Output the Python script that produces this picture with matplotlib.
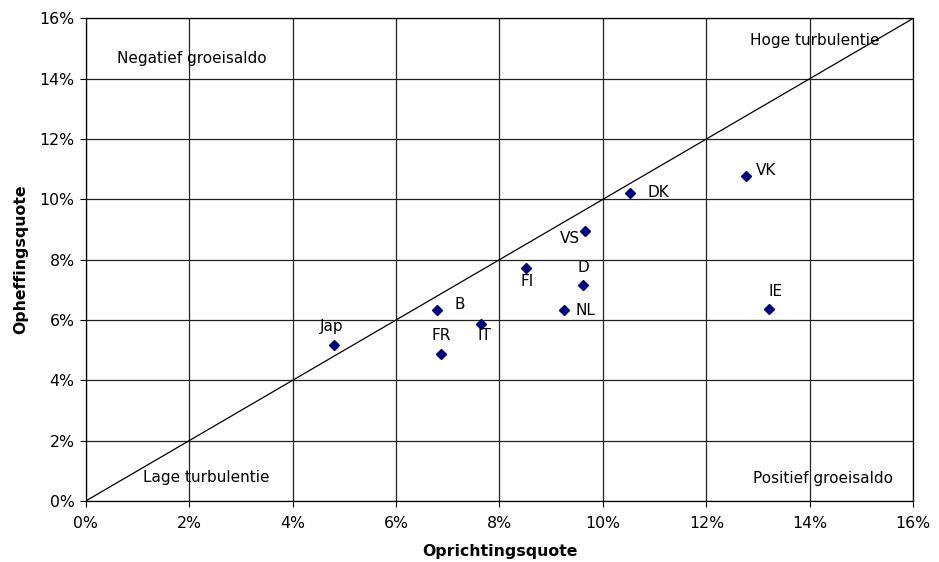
import matplotlib
matplotlib.use("Agg")
import matplotlib.pyplot as plt
from matplotlib.ticker import FuncFormatter, MultipleLocator

countries = ["Jap", "B", "FR", "IT", "FI", "D", "NL", "VS", "DK", "VK", "IE"]
oprichting = [4.81, 6.79, 6.87, 7.65, 8.51, 9.62, 9.25, 9.66, 10.52, 12.77, 13.21]
opheffing = [5.17, 6.33, 4.87, 5.87, 7.71, 7.17, 6.32, 8.94, 10.22, 10.76, 6.37]
# label offsets in points (dx, dy) and alignment
label_pos = {
    "Jap": (-2, 8, "center", "bottom"),
    "B": (13, 4, "left", "center"),
    "FR": (0, 8, "center", "bottom"),
    "IT": (2, -3, "center", "top"),
    "FI": (1, -4, "center", "top"),
    "D": (0, 7, "center", "bottom"),
    "NL": (8, 0, "left", "center"),
    "VS": (-4, -5, "right", "center"),
    "DK": (13, 0, "left", "center"),
    "VK": (7, 4, "left", "center"),
    "IE": (5, 7, "center", "bottom"),
}

W, H = 939, 562
L, R, T, B = 85.7, 913.3, 18.3, 501
fig = plt.figure(figsize=(W/100, H/100), dpi=100)
ax = fig.add_axes([L/W, 1-B/H, (R-L)/W, (B-T)/H])

ax.set_xlim(0, 16)
ax.set_ylim(0, 16)
ax.xaxis.set_major_locator(MultipleLocator(2))
ax.yaxis.set_major_locator(MultipleLocator(2))
fmt = FuncFormatter(lambda v, p: f"{int(round(v))}%")
ax.xaxis.set_major_formatter(fmt)
ax.yaxis.set_major_formatter(fmt)
ax.grid(True, color="#222222", linewidth=0.9)
ax.set_axisbelow(True)
for s in ax.spines.values():
    s.set_color("black")
    s.set_linewidth(0.9)
ax.tick_params(direction="out", length=4, labelsize=11.3, colors="black")
ax.tick_params(axis="x", pad=7)
ax.tick_params(axis="y", pad=4)

ax.plot([0, 16], [0, 16], color="black", linewidth=0.9, zorder=2)
ax.plot(oprichting, opheffing, linestyle="none", marker="D", markersize=5.5,
        color="#000080", zorder=3)

for c, x, y in zip(countries, oprichting, opheffing):
    dx, dy, ha, va = label_pos[c]
    ax.annotate(c, (x, y), xytext=(dx, dy), textcoords="offset points",
                ha=ha, va=va, fontsize=11)

ax.text(0.61, 14.68, "Negatief groeisaldo", ha="left", va="center", fontsize=11)
ax.text(15.35, 15.28, "Hoge turbulentie", ha="right", va="center", fontsize=11)
ax.text(1.11, 0.77, "Lage turbulentie", ha="left", va="center", fontsize=11)
ax.text(15.6, 0.75, "Positief groeisaldo", ha="right", va="center", fontsize=11)

ax.set_xlabel("Oprichtingsquote", fontsize=11.3, fontweight="bold", labelpad=9)
ax.set_ylabel("Opheffingsquote", fontsize=11.3, fontweight="bold", labelpad=8)

fig.savefig("out.png", dpi=100)
